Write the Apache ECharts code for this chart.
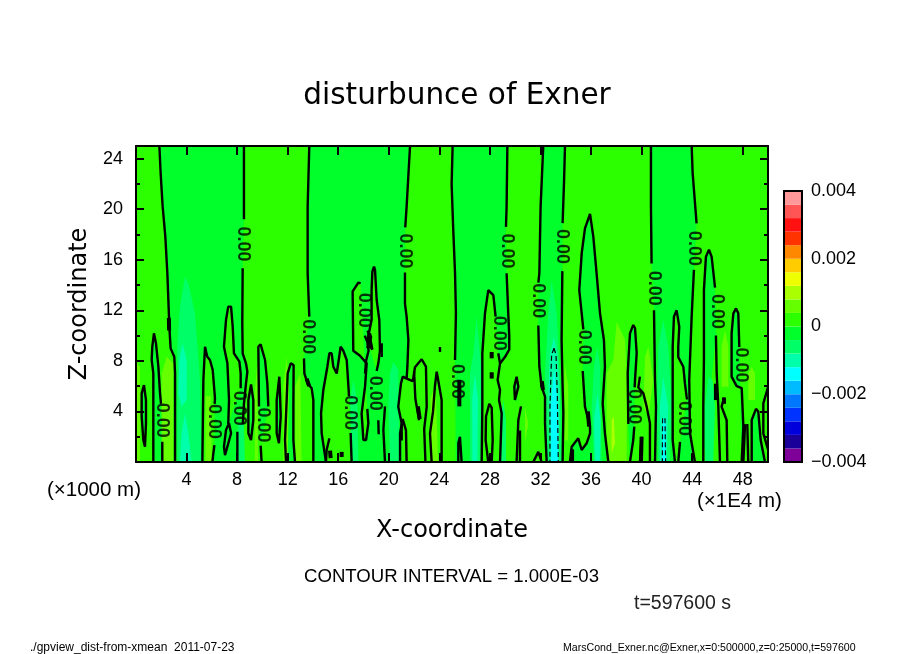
<!DOCTYPE html>
<html>
<head>
<meta charset="utf-8">
<script src="https://cdn.jsdelivr.net/npm/echarts@6/dist/echarts.min.js"></script>
<style>body{margin:0;background:#fff}#chart{width:904px;height:654px}</style>
</head>
<body>
<div id="chart"></div>
<script>
// colour bands from -0.004 to 0.004, step 0.0004
var bandEdges = [-0.004,-0.0036,-0.0032,-0.0028,-0.0024,-0.002,-0.0016,-0.0012,-0.0008,-0.0004,0,0.0004,0.0008,0.0012,0.0016,0.002,0.0024,0.0028,0.0032,0.0036,0.004];
var bandColors = ['#7f0099','#1a0099','#0000dd','#0033ff','#0077ff','#00bbff','#00ffff','#00ffaa','#00ff66','#00ff2b','#2bff00','#66ff00','#aaff00','#eeff00','#ffcc00','#ff8800','#ff3300','#ff1111','#ff5555','#ff9999'];

// zero contours, [x (1E4 m), z (1000 m)]
var c01 = [[1.85,25],[1.95,22.84],[2.11,20.2],[2.32,17.83],[2.48,14.93],[2.61,11.5],[2.66,10.31],[2.74,8.99],[3.03,8.33],[3.09,7.01],[3.09,0]];
var c02 = [[.63,6.09],[.45,5.43],[.45,3.59],[.58,1.74],[.71,1.21],[.79,3.06],[.79,4.9],[.63,6.09]];
var c03 = [[1.37,0],[1.37,4.38],[1.37,7.01],[1.24,8.07],[1.29,9.12],[1.42,10.18],[1.58,9.39],[1.77,7.54],[1.9,5.43],[1.98,4.6]];
var c03b = [[2.08,1.61],[2.08,0]];
var c04 = [[5.25,0],[5.33,6.49],[5.46,9.12],[5.64,8.33],[5.85,8.07],[6.07,7.28],[6.25,5.04],[6.22,4.6]];
var c04b = [[6.2,1.34],[6.04,0]];
var c05 = [[7.3,3.0],[7.36,4.9],[7.23,7.81],[6.96,9.12],[7.12,11.23],[7.3,12.29],[7.38,12.37],[7.52,12.29],[7.65,10.71],[7.75,8.6],[8.18,7.94],[8.28,7.01],[8.28,5.83]];
var c06 = [[7.36,3.06],[7.12,2.53],[6.96,1.21],[7.04,.55],[7.23,1.21],[7.52,2.27],[7.36,3.06]];
var c07 = [[8.02,2.4],[8.02,0]];
var c08 = [[8.54,25],[8.54,19.2]];
var c08b = [[8.44,15.32],[8.41,11],[8.44,8.6],[8.7,7.81],[8.81,7.14],[8.7,6.2],[8.54,4.6],[8.45,3.0]];
var c09 = [[9.1,6.14],[8.89,4.9],[8.89,2.27],[9.1,1.74],[9.28,3.32],[9.28,4.9],[9.1,6.14]];
var c10 = [[9.73,4.4],[9.68,9.12],[9.86,9.3],[10.21,8.07],[10.39,6.23],[10.47,4.4]];
var c10b = [[9.86,1.3],[9.94,0]];
var c11 = [[11.34,6.75],[11.13,4.9],[11.13,2.27],[11.31,1.48],[11.45,3.6],[11.39,5.4],[11.34,6.75]];
var c12 = [[11.87,0],[11.79,1.74],[11.92,4.9],[12.0,7.01],[12.24,7.8],[12.47,7.67],[12.45,4.38],[12.45,1.74],[12.58,0]];
var c13 = [[13.71,25],[13.58,20.2],[13.58,14.93],[13.71,11.5]];
var c13b = [[13.29,8.2],[13.32,7.01],[13.58,6.2],[13.9,5.83],[14.03,4.9],[14.03,2.8],[14.03,0]];
var c14 = [[15.03,0],[14.69,2.27],[14.64,3.85],[14.82,5.7],[15.14,7.54],[15.3,8.6],[15.48,8.6],[15.61,7.54],[15.88,7.0],[16.19,9.12],[16.27,9.12],[16.4,8.8],[16.67,8.07],[16.83,5.6],[16.85,5.2]];
var c14b = [[16.98,2.3],[17.06,0]];
var c15 = [[15.3,1.87],[15.08,.95],[15.03,0]];
var c16 = [[17.77,14.13],[17.6,14.2],[17.14,13.5],[17.19,8.8],[17.72,8.4],[18.25,7.8],[18.12,5.96],[17.85,3.85],[17.99,1.74],[18.2,1.74],[18.38,3.06],[18.3,4.2]];
var c16b = [[18.1,10.0],[18.3,9.5],[18.4,8.8],[18.2,8.0],[18.12,7.0]];
var c17 = [[18.3,9.6],[18.64,11.23],[18.64,13.61],[18.7,15.06],[18.83,15.45],[18.91,15.2],[19.04,12.82],[19.25,11.23],[19.3,8.8],[19.17,7.81],[19.04,7.2]];
var c17b = [[18.3,10.4],[18.6,9.9],[18.4,9.3],[18.7,8.9],[18.5,9.9],[18.3,9.0]];
var c18 = [[19.44,9.4],[19.44,8.3]];
var c18b = [[19.17,3.3],[19.2,2.2]];
var c18c = [[19.7,4.4],[19.57,2.53],[19.7,0]];
var c18d = [[20.89,0],[20.89,2.27],[21.1,3.4],[21.36,2.5],[21.41,0]];
var c19 = [[21.68,25],[21.41,20.2],[21.3,18.56]];
var c19b = [[21.28,15],[21.28,12.5],[21.41,11.5],[21.55,9.65],[21.47,7.54],[21.41,6.6],[21.1,6.75],[20.96,6.2],[20.75,4.38],[21.02,3.06],[21.02,1.7]];
var c20 = [[21.41,6.6],[21.9,6.4],[22.07,7.5],[22.6,8.13],[22.94,7.54],[23.0,4.38],[22.8,2.6],[22.9,0]];
var c20b = [[22.0,7.2],[22.1,5.0],[22.4,3.3]];
var c21 = [[23.39,0],[23.26,2.27],[23.5,4.0],[23.65,6.0],[23.79,7.15],[23.92,7.0],[24.18,4.9],[24.18,0]];
var c21b = [[24.05,9.1],[24.05,8.7]];
var r01 = [[25.05,25],[24.97,22],[25.1,18.35],[25.24,14.93],[25.31,11.76],[25.24,8.07]];
var r02 = [[25.5,0],[25.5,1.5],[25.63,2.0],[25.71,2.0],[25.76,0]];
var r03 = [[29.38,25],[29.32,20.2],[29.27,18.6]];
var r03b = [[29.32,14.93],[29.45,11.76],[29.53,10.0],[29.53,8.9],[29.19,8.3],[28.8,7.8],[28.61,6.49],[28.8,5.7],[28.72,4.9],[28.93,3.85],[28.8,0]];
var r04 = [[27.35,0],[27.4,4.38],[27.4,8.6],[27.61,11.76],[27.87,13.6],[28.27,13.2],[28.45,11.5]];
var r04b = [[28.66,8.6],[28.8,7.8]];
var r05 = [[27.87,0],[27.66,1.74],[27.69,3.6],[27.95,4.6],[28.14,4.3],[28.22,1.74],[28.14,0]];
var r06 = [[30.11,6.75],[29.93,5.96],[29.98,4.9],[30.11,4.75],[30.25,5.96],[30.11,6.75]];
var r07 = [[30.46,4.4],[30.25,3.32],[30.11,0]];
var r07b = [[30.38,2.5],[30.38,0]];
var r08 = [[32.22,25],[32.01,20.2],[31.91,14.93],[31.83,14.2]];
var r08b = [[31.83,10.8],[31.91,7.54],[32.09,5.96],[32.36,5.17],[32.36,3.06],[32.49,0]];
var r09 = [[33.94,25],[33.86,22.05],[33.75,18.9]];
var r09b = [[33.73,15.1],[33.67,9.65],[33.75,5.96],[33.81,3.85],[33.75,0]];
var r10 = [[31.43,0],[31.83,.8],[32.09,0]];
var r11 = [[35.39,10.5],[35.26,11.76],[35.07,13.6],[35.26,16.5],[35.52,18.49],[35.92,19.62],[36.18,17.83],[36.44,14.93],[36.71,11.76],[37.02,9.65],[37.1,7.54],[36.92,4.64],[37.1,2.27],[37.37,0]];
var r11b = [[35.34,7.2],[35.52,4.38],[35.92,2.8],[35.92,2.27],[35.65,1.48],[35.26,.95],[34.99,1.87],[34.47,1.21],[34.33,0]];
var r12 = [[38.95,3.0],[38.9,7.01],[39.08,10.18],[39.34,10.84],[39.48,10.6],[39.61,8.6],[39.48,6.5],[39.45,5.9]];
var r12b = [[39.42,2.8],[39.34,1.74],[39.08,0]];
var r13 = [[39.87,6.75],[39.74,5.9],[40.14,5.43],[40.4,4.38],[40.66,3.06],[40.66,0]];
var r13b = [[40.0,2.0],[39.87,0]];
var r14 = [[40.74,25],[40.74,20.2],[40.79,15.7]];
var r14b = [[40.98,12.0],[41.06,6.49],[41.14,4.38],[41.06,0]];
var r15 = [[42.64,0],[42.46,1.74],[42.46,4.38],[42.46,9.12],[42.56,11.5],[42.77,12.0],[42.98,10.71],[42.9,9.12],[42.9,8.3],[43.3,7.54],[43.43,6.2],[43.56,5.17],[43.6,4.95]];
var r15b = [[43.04,1.6],[42.9,0]];
var r16 = [[43.96,25],[44.04,22.84],[44.35,18.88]];
var r16b = [[44.14,15.2],[43.96,11.5],[43.77,6.49],[43.83,2.27],[44.22,0]];
var r17 = [[44.88,0],[44.88,4.38],[44.93,8.07],[44.93,13.6],[45.09,16.24],[45.33,16.8],[45.54,16.24],[45.81,13.8]];
var r17b = [[45.88,10.0],[45.94,7.01],[46.07,4.38],[46.2,0]];
var r18 = [[46.52,5.1],[46.33,4.38],[46.73,3.3],[46.78,0]];
var r19 = [[47.73,9.1],[47.65,11.76],[47.47,12.15],[47.26,11.76],[47.12,10.18],[47.12,6.75],[47.52,6.0],[47.92,5.85],[48.05,2.8],[47.92,0]];
var r20 = [[48.18,3.0],[48.05,0]];
var r20b = [[48.36,3.0],[48.44,0]];
var r21 = [[48.71,0],[48.71,3.32],[49.05,4.2],[49.23,4.0],[49.42,1.74],[49.76,0]];
var r22 = [[50,1.0],[49.63,2.27],[49.63,4.64],[50,5.9]];

var solidContours = [c01,c02,c03,c03b,c04,c04b,c05,c06,c07,c08,c08b,c09,c10,c10b,c11,c12,c13,c13b,c14,c14b,c15,c16,c16b,c17,c17b,c18,c18b,c18c,c18d,c19,c19b,c20,c20b,c21,c21b,
  r01,r02,r03,r03b,r04,r04b,r05,r06,r07,r07b,r08,r08b,r09,r09b,r10,r11,r11b,r12,r12b,r13,r13b,r14,r14b,r15,r15b,r16,r16b,r17,r17b,r18,r19,r20,r20b,r21,r22];
// negative contours
var dashedContours = [
  [[33.07,9.0],[32.88,8.5],[32.75,4.38],[32.75,0]],
  [[33.07,9.0],[33.23,8.5],[33.33,5.4],[33.41,0]],
  [[41.66,3.47],[41.64,0]],
  [[41.85,3.47],[41.9,0]]
];
// places where the contour bunches up into a black smear
var smears = [[[2.6,11.4],[2.62,10.4]],[[15.35,.9],[15.4,.3]],[[16.27,.8],[16.27,.4]],[[25.58,6.5],[25.58,4.4]],[[28.14,8.7],[28.14,8.2]],[[28.14,7.1],[28.14,6.6]],[[32.1,6.4],[32.2,5.7]],[[34.5,1.0],[34.5,0]],[[35.75,4.0],[35.85,2.8]],[[40.0,2.0],[39.95,0]],[[45.88,6.2],[45.88,4.9]],[[46.52,5.1],[46.52,4.6]],[[22.3,4.4],[22.45,3.4]],[[18.45,10.2],[18.55,9.0]],[[13.5,6.6],[13.7,6.0]]];
// contour labels, [x, z]
var labelSpots = [[2.06,3.3],[6.2,3.2],[8.15,4.25],[8.44,17.25],[10.07,2.93],[13.63,9.9],[16.93,3.9],[18.0,12.0],[18.9,5.43],[21.28,16.7],[25.42,6.36],[29.38,16.7],[28.72,10.18],[31.78,12.76],[33.68,17.04],[35.44,9.07],[39.42,4.38],[40.98,13.74],[43.38,3.45],[44.17,16.9],[45.94,11.9],[47.86,7.67]];

function strip(left, right) { return left.concat(right.slice().reverse()); }
function join() { return Array.prototype.concat.apply([], arguments); }

// filled patches, painted in order: [band index, outline]
var patches = [
  [10, [[0,0],[50,0],[50,25],[0,25]]],
  [9, strip(join(c01), join(c08,c08b,[[8.5,0]]))],
  [9, strip(join(c13,c13b), join(c19,c19b,[[21.02,0]]))],
  [9, strip(join(r01,[[25.3,0]]), join(r03,r03b))],
  [9, strip(join(r08,r08b), join(r09,r09b))],
  [9, strip(join(r14,r14b), join(r16,r16b))],
  [9, join(r11,[[34.33,0]],r11b.slice().reverse())],
  [9, join(c03,c03b)], [9, c02], [9, join(c10,c10b)], [9, c11], [9, c12], [9, c09],
  [9, join(r12,r12b)], [9, r17.concat(r17b.slice().reverse())], [9, r19], [9, r21], [9, r05], [9, r06],
  [10, join(c04,c04b)], [10, c05], [10, join(c14,c14b)], [10, c16], [10, c17],
  [10, r04.concat(r04b,[[28.8,0]])], [10, join(r15,r15b)],
  [11, [[0,0],[0,8.07],[.32,7.5],[.32,0]]],
  [11, [[2.03,0],[2.03,7.01],[2.43,8.33],[2.95,7.81],[2.95,0]]],
  [11, [[5.5,0],[5.5,5.2],[5.9,5.2],[6.0,0]]],
  [11, [[9.4,0],[9.4,5.5],[9.6,8.0],[9.65,0]]],
  [11, [[11.66,0],[11.66,6],[11.92,8.3],[12.1,6],[12.0,0]]],
  [11, [[12.6,0],[12.6,6],[13.0,7.01],[13.1,0]]],
  [11, [[23.3,0],[23.3,5],[23.7,6.2],[23.9,0]]],
  [11, [[37.23,0],[37.23,7.01],[37.76,8.07],[38.03,11.1],[38.69,9.65],[38.82,7.01],[38.82,0]]],
  [12, [[37.63,.7],[37.63,3.3],[37.8,3.6],[37.9,1.5]]],
  [11, [[40.14,4.38],[40.27,8.3],[40.53,9.12],[40.93,6.5],[40.53,3.6]]],
  [11, [[46.33,9.12],[46.6,10.4],[46.86,9.12],[46.86,5.96],[46.33,5.96]]],
  [11, [[48.44,7.01],[48.71,7.54],[48.97,7.01],[48.97,4.9],[48.44,4.9]]],
  [11, [[30.77,4.4],[31.04,3.0],[30.77,1.5]]],
  [11, [[33.9,7.8],[33.9,1.7],[34.2,1.7],[34.2,6]]],
  [8, [[3.27,0],[3.27,9.12],[3.48,12.29],[3.88,14.66],[4.14,14.13],[4.67,11.76],[5.06,6.49],[5.2,0]]],
  [7, [[3.35,5.43],[3.43,8.07],[3.69,9.39],[4.01,8.07],[4.01,4.9],[3.61,4.38]]],
  [7, [[3.61,2.27],[3.48,0],[4.4,0],[4.14,2.27],[3.88,3.85]]],
  [8, [[17.19,6.49],[16.93,4.9],[17.06,0],[17.59,0],[17.51,4.9]]],
  [8, [[20.36,7.94],[20.09,7.01],[19.96,4.38],[20.09,0],[20.89,0],[20.75,4.38],[20.75,7.28]]],
  [8, [[8.1,3.06],[7.96,0],[8.62,0],[8.54,3.06]]],
  [8, [[26.42,0],[26.42,7.01],[26.69,8.6],[26.95,11.5],[27.16,9.12],[27.35,7.01],[27.21,0]]],
  [7, [[26.6,0],[26.6,5],[26.82,7],[27.05,5],[27.0,0]]],
  [8, [[32.49,0],[32.36,7],[32.62,11.76],[32.88,14.4],[33.28,11.76],[33.54,7.01],[33.67,0]]],
  [7, [[32.75,0],[32.62,5.43],[32.75,8.6],[33.07,9.91],[33.33,8.6],[33.54,5.43],[33.41,0]]],
  [6, [[32.83,0],[32.8,4.38],[33.07,7.28],[33.41,4.38],[33.41,0]]],
  [8, [[36.23,0],[36.05,4.38],[36.23,7.54],[36.5,9.12],[36.71,7.54],[36.76,4.38],[36.84,0]]],
  [7, [[36.31,0],[36.23,3.3],[36.5,5.43],[36.76,3.3],[36.71,0]]],
  [8, [[41.32,0],[41.19,4.38],[41.32,9.12],[41.72,11.23],[42.11,9.12],[42.38,4.38],[42.24,0]]],
  [7, [[41.45,0],[41.45,4.38],[41.72,6.75],[42.11,4.38],[41.98,0]]],
  [6, [[41.6,0],[41.66,3.47],[41.9,3.47],[41.93,0]]],
  [8, [[28.8,0],[28.8,3.32],[29.06,4.9],[29.27,3.32],[29.27,0]]],
  [8, [[45.01,0],[45.01,4.38],[45.28,6.75],[45.62,6.49],[45.81,4.38],[45.67,0]]]
];

var FONT = 'Liberation Sans';
var WIDE = 'DejaVu Sans';

function lineSeries(pts, width, type) {
  return {
    type: 'line', data: pts, xAxisIndex: 0, yAxisIndex: 0, symbol: 'none', z: 5, silent: true,
    lineStyle: { color: '#000', width: width, type: type, join: 'bevel' }
  };
}

var series = [{
  type: 'custom', xAxisIndex: 0, yAxisIndex: 0, clip: true, z: 2, silent: true,
  data: patches.map(function(p, i) { return [i]; }),
  encode: { x: -1, y: -1 },
  renderItem: function(params, api) {
    var p = patches[params.dataIndex];
    return { type: 'polygon', shape: { points: p[1].map(function(d) { return api.coord(d); }) }, style: { fill: bandColors[p[0]] } };
  }
}];
solidContours.forEach(function(c) { series.push(lineSeries(c, 2.4, 'solid')); });
dashedContours.forEach(function(c) { series.push(lineSeries(c, 1.2, [5, 3])); });
smears.forEach(function(c) { series.push(lineSeries(c, 4, 'solid')); });
series.push({
  type: 'scatter', xAxisIndex: 0, yAxisIndex: 0, data: labelSpots, symbolSize: 0, z: 6, silent: true,
  label: { show: true, position: 'inside', formatter: '0.00', rotate: -90, fontFamily: FONT, fontWeight: 'bold', fontSize: 18, color: '#000' }
});
// colour bar
series.push({
  type: 'custom', xAxisIndex: 2, yAxisIndex: 2, z: 2, silent: true,
  data: bandColors.map(function(c, i) { return [i]; }),
  encode: { x: -1, y: -1 },
  renderItem: function(params, api) {
    var i = params.dataIndex;
    var a = api.coord([0, bandEdges[i]]), b = api.coord([1, bandEdges[i + 1]]);
    return { type: 'rect', shape: { x: a[0], y: b[1], width: b[0] - a[0], height: a[1] - b[1] }, style: { fill: bandColors[i] } };
  }
});
series.push({
  type: 'custom', xAxisIndex: 2, yAxisIndex: 2, z: 3, silent: true, data: [[0]],
  encode: { x: -1, y: -1 },
  renderItem: function(params, api) {
    var a = api.coord([0, -0.004]), b = api.coord([1, 0.004]);
    return { type: 'rect', shape: { x: a[0], y: b[1], width: b[0] - a[0], height: a[1] - b[1] }, style: { fill: null, stroke: '#000', lineWidth: 2 } };
  }
});

function frameAxis(extra) {
  return Object.assign({
    type: 'value', gridIndex: 0, z: 10,
    axisLine: { show: true, onZero: false, lineStyle: { color: '#000', width: 2 } },
    axisTick: { show: true, inside: true, length: 9, lineStyle: { color: '#000', width: 2 } },
    splitLine: { show: false }
  }, extra);
}
var labelStyle = { fontFamily: FONT, fontSize: 18, color: '#000', showMinLabel: false, showMaxLabel: false };

var option = {
  animation: false,
  backgroundColor: '#fff',
  title: { text: 'disturbunce of Exner', left: 452, top: 76, textAlign: 'center', textStyle: { fontFamily: WIDE, fontSize: 29.5, fontWeight: 'normal', color: '#000' } },
  grid: [
    { left: 136, top: 146, width: 632, height: 316 },
    { left: 784, top: 191, width: 18, height: 271 }
  ],
  xAxis: [
    frameAxis({ min: 0, max: 50, interval: 4, position: 'bottom', name: 'X-coordinate', nameLocation: 'middle', nameGap: 57,
      nameTextStyle: { fontFamily: WIDE, fontSize: 24, color: '#000' },
      axisLabel: Object.assign({ margin: 9 }, labelStyle) }),
    frameAxis({ min: 0, max: 50, interval: 4, position: 'top', axisLabel: { show: false } }),
    { type: 'value', gridIndex: 1, min: 0, max: 1, show: false }
  ],
  yAxis: [
    frameAxis({ min: 0, max: 25, interval: 4, position: 'left', name: 'Z-coordinate', nameLocation: 'middle', nameGap: 41,
      nameTextStyle: { fontFamily: WIDE, fontSize: 24, color: '#000' },
      minorTick: { show: true, splitNumber: 2, length: 4, lineStyle: { color: '#000', width: 2 } },
      axisTick: { show: true, inside: true, length: 8, lineStyle: { color: '#000', width: 2 } },
      axisLabel: Object.assign({ margin: 13 }, labelStyle) }),
    frameAxis({ min: 0, max: 25, interval: 4, position: 'right', axisLabel: { show: false },
      minorTick: { show: true, splitNumber: 2, length: 4, lineStyle: { color: '#000', width: 2 } },
      axisTick: { show: true, inside: true, length: 8, lineStyle: { color: '#000', width: 2 } } }),
    { type: 'value', gridIndex: 1, min: -0.004, max: 0.004, interval: 0.002, position: 'right',
      axisLine: { show: false }, axisTick: { show: false }, splitLine: { show: false },
      axisLabel: { margin: 9, fontFamily: FONT, fontSize: 18, color: '#000',
        formatter: function(v) { return v === 0 ? '0' : (v < 0 ? '\u2212' : '') + Math.abs(v).toFixed(3); } } }
  ],
  graphic: [
    { type: 'text', left: 47, top: 480, style: { text: '(\u00d71000 m)', font: '20.5px "Liberation Sans"', fill: '#000' } },
    { type: 'text', left: 697, top: 491, style: { text: '(\u00d71E4 m)', font: '20.5px "Liberation Sans"', fill: '#000' } },
    { type: 'text', left: 304, top: 567, style: { text: 'CONTOUR INTERVAL = 1.000E-03', font: '18.6px "Liberation Sans"', fill: '#000' } },
    { type: 'text', left: 634, top: 594, style: { text: 't=597600 s', font: '19.5px "Liberation Sans"', fill: '#222' } },
    { type: 'text', left: 30, top: 642, style: { text: './gpview_dist-from-xmean  2011-07-23', font: '12px "Liberation Sans"', fill: '#000' } },
    { type: 'text', left: 563, top: 643, style: { text: 'MarsCond_Exner.nc@Exner,x=0:500000,z=0:25000,t=597600', font: '10.6px "Liberation Sans"', fill: '#000' } }
  ],
  series: series
};

var chart = echarts.init(document.getElementById('chart'), null, { renderer: 'canvas' });
chart.setOption(option);
</script>
</body>
</html>
